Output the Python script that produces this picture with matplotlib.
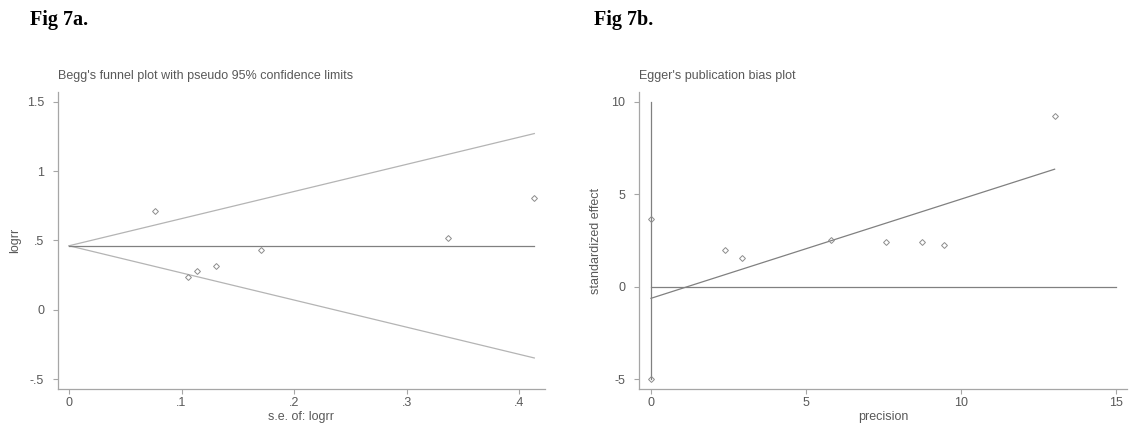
import matplotlib
matplotlib.use("Agg")
import matplotlib.pyplot as plt
from matplotlib.ticker import FuncFormatter

# ---- Data ----
# Fig 7a: Begg's funnel plot
begg_se = [0.0765, 0.1055, 0.1135, 0.1305, 0.1705, 0.3365, 0.4135]
begg_logrr = [0.710, 0.237, 0.277, 0.316, 0.432, 0.520, 0.805]
begg_pooled = 0.462
begg_se_range = [0.0, 0.4135]
begg_upper = [0.462, 1.272]
begg_lower = [0.462, -0.348]

# Fig 7b: Egger's publication bias plot
egger_precision = [2.40, 2.94, 5.82, 7.58, 8.73, 9.45, 13.02]
egger_std_effect = [1.97, 1.56, 2.52, 2.42, 2.42, 2.26, 9.25]
egger_ci_x = [0.0, 0.0]
egger_ci_y = [3.68, -4.98]
egger_fit_x = [0.0, 13.02]
egger_fit_y = [-0.63, 6.36]
egger_vline_y = [-5.0, 10.0]
egger_hline_x = [0.0, 15.0]

begg_xticks = [0, 0.1, 0.2, 0.3, 0.4]
begg_yticks = [-0.5, 0, 0.5, 1, 1.5]
egger_xticks = [0, 5, 10, 15]
egger_yticks = [-5, 0, 5, 10]

plt.rcParams['font.family'] = ['Liberation Sans', 'DejaVu Sans']

TXT = '#595959'
SPINE = '#a6a6a6'
DARK = '#808080'
LIGHT = '#b4b4b4'
MK = '#8c8c8c'


def stata_fmt(v, pos=None):
    if abs(v - round(v)) < 1e-9:
        return str(int(round(v)))
    s = ('%g' % v)
    s = s.replace('0.', '.')
    return s


W, H = 1136, 423
fig = plt.figure(figsize=(W / 100, H / 100), dpi=100)
fig.patch.set_facecolor('white')


def px_axes(x0, x1, ytop, ybot):
    return fig.add_axes([x0 / W, 1 - ybot / H, (x1 - x0) / W, (ybot - ytop) / H])


ax1 = px_axes(58, 545, 92, 389)
ax2 = px_axes(639, 1127, 92, 389)

for ax in (ax1, ax2):
    for s in ('top', 'right'):
        ax.spines[s].set_visible(False)
    for s in ('left', 'bottom'):
        ax.spines[s].set_color(SPINE)
        ax.spines[s].set_linewidth(0.9)
    ax.tick_params(direction='out', length=3.5, width=0.8, color=SPINE,
                   labelcolor=TXT, labelsize=9)
    ax.tick_params(axis='y', pad=6.5)
    ax.tick_params(axis='x', pad=2)
    ax.xaxis.set_major_formatter(FuncFormatter(stata_fmt))
    ax.yaxis.set_major_formatter(FuncFormatter(stata_fmt))

# ---- Left: Begg ----
ax1.plot(begg_se_range, begg_upper, color=LIGHT, lw=0.9)
ax1.plot(begg_se_range, begg_lower, color=LIGHT, lw=0.9)
ax1.plot(begg_se_range, [begg_pooled, begg_pooled], color=DARK, lw=0.9)
ax1.plot(begg_se, begg_logrr, linestyle='none', marker='D', markersize=3,
         markerfacecolor='none', markeredgecolor=MK, markeredgewidth=0.7)
ax1.set_xlim(-0.0098, 0.423)
ax1.set_ylim(-0.572, 1.572)
ax1.set_xticks(begg_xticks)
ax1.set_yticks(begg_yticks)
ax1.set_xlabel("s.e. of: logrr", color=TXT, fontsize=9, labelpad=1.5)
ax1.set_ylabel("logrr", color=TXT, fontsize=9)
ax1.yaxis.set_label_coords(-0.076, 0.5)
ax1.set_title("Begg's funnel plot with pseudo 95% confidence limits",
              loc='left', color=TXT, fontsize=9, pad=9)

# ---- Right: Egger ----
ax2.plot([0, 0], egger_vline_y, color=DARK, lw=0.9)
ax2.plot(egger_hline_x, [0, 0], color=DARK, lw=0.9)
ax2.plot(egger_fit_x, egger_fit_y, color=DARK, lw=0.9)
ax2.plot(egger_precision, egger_std_effect, linestyle='none', marker='D',
         markersize=3, markerfacecolor='none', markeredgecolor=MK,
         markeredgewidth=0.7)
ax2.plot(egger_ci_x, egger_ci_y, linestyle='none', marker='D', markersize=3,
         markerfacecolor='none', markeredgecolor=MK, markeredgewidth=0.7)
ax2.set_xlim(-0.387, 15.355)
ax2.set_ylim(-5.54, 10.54)
ax2.set_xticks(egger_xticks)
ax2.set_yticks(egger_yticks)
ax2.set_xlabel("precision", color=TXT, fontsize=9, labelpad=1.5)
ax2.set_ylabel("standardized effect", color=TXT, fontsize=9)
ax2.yaxis.set_label_coords(-0.076, 0.5)
ax2.set_title("Egger's publication bias plot", loc='left', color=TXT,
              fontsize=9, pad=9)

# ---- Panel labels ----
fig.text(30 / W, 1 - 25 / H, "Fig 7a.", family=['Liberation Serif', 'DejaVu Serif'],
         fontweight='bold', fontsize=14.5, color='black', va='baseline', ha='left')
fig.text(594 / W, 1 - 25 / H, "Fig 7b.", family=['Liberation Serif', 'DejaVu Serif'],
         fontweight='bold', fontsize=14.5, color='black', va='baseline', ha='left')

fig.savefig("out.png", dpi=100, facecolor='white')
